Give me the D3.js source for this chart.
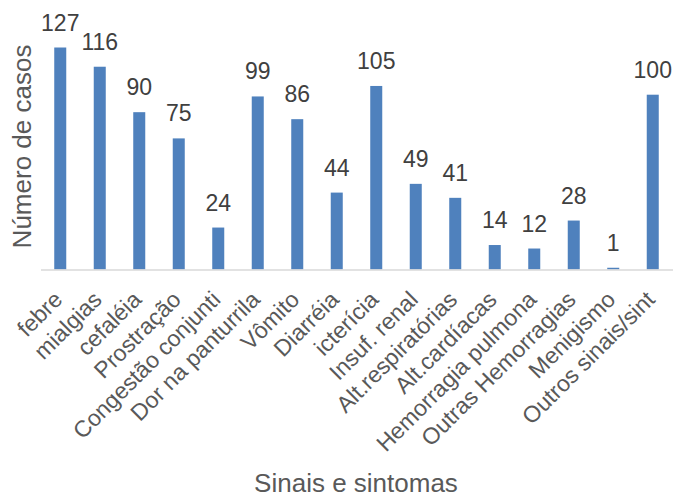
<!DOCTYPE html>
<html>
<head>
<meta charset="utf-8">
<script src="https://cdn.jsdelivr.net/npm/d3@7"></script>
<style>
  html, body { margin: 0; padding: 0; background: #ffffff; }
  svg { display: block; font-family: Arial, "Liberation Sans", sans-serif; }
</style>
</head>
<body>
<svg id="chart" width="674" height="497"></svg>
<script>
const categories = ["febre", "mialgias", "cefaléia", "Prostração", "Congestão conjunti", "Dor na panturrila", "Vômito", "Diarréia", "icterícia", "Insuf. renal", "Alt.respiratórias", "Alt.cardíacas", "Hemorragia pulmona", "Outras Hemorragias", "Menigismo", "Outros sinais/sint"];
const casos = [127, 116, 90, 75, 24, 99, 86, 44, 105, 49, 41, 14, 12, 28, 1, 100];
const yTitle = "Número de casos";
const xTitle = "Sinais e sintomas";

const svg = d3.select("#chart");
const baseY = 269.5;
const yMax = 140;

const x = d3.scaleBand()
  .domain(categories)
  .range([40.5, 672.5])
  .paddingInner(0.696)
  .paddingOuter(0.348);

const y = d3.scaleLinear()
  .domain([0, yMax])
  .range([baseY, baseY - yMax * 1.748]);

const data = categories.map((c, i) => ({ cat: c, v: casos[i] }));

// bars
svg.append("g").selectAll("rect")
  .data(data)
  .join("rect")
  .attr("x", d => x(d.cat))
  .attr("y", d => y(d.v))
  .attr("width", x.bandwidth())
  .attr("height", d => y(0) - y(d.v))
  .attr("fill", "#4f81bd");

// x axis
const xAxis = d3.axisBottom(x).tickSize(0).tickPadding(0);
const gx = svg.append("g")
  .attr("transform", `translate(0,${baseY})`)
  .call(xAxis);
gx.select(".domain").attr("stroke", "#d9d9d9").attr("stroke-width", 1.5);
gx.selectAll(".tick text")
  .attr("fill", "#595959")
  .attr("font-size", 23)
  .attr("font-family", "Arial, 'Liberation Sans', sans-serif")
  .attr("text-anchor", "end")
  .attr("dy", 0)
  .attr("transform", "translate(3.5,31.5) rotate(-45)")
  .attr("y", 0)
  .attr("x", 0);

// value labels
svg.append("g").selectAll("text")
  .data(data)
  .join("text")
  .attr("x", d => x(d.cat) + x.bandwidth() / 2)
  .attr("y", d => y(d.v) - 17)
  .attr("text-anchor", "middle")
  .attr("font-size", 23)
  .attr("fill", "#404040")
  .text(d => d.v);

// axis titles
svg.append("text")
  .attr("transform", `translate(31,146.5) rotate(-90)`)
  .attr("text-anchor", "middle")
  .attr("font-size", 26)
  .attr("fill", "#595959")
  .text(yTitle);

svg.append("text")
  .attr("x", 356)
  .attr("y", 492)
  .attr("text-anchor", "middle")
  .attr("font-size", 26)
  .attr("fill", "#595959")
  .text(xTitle);
</script>
</body>
</html>
